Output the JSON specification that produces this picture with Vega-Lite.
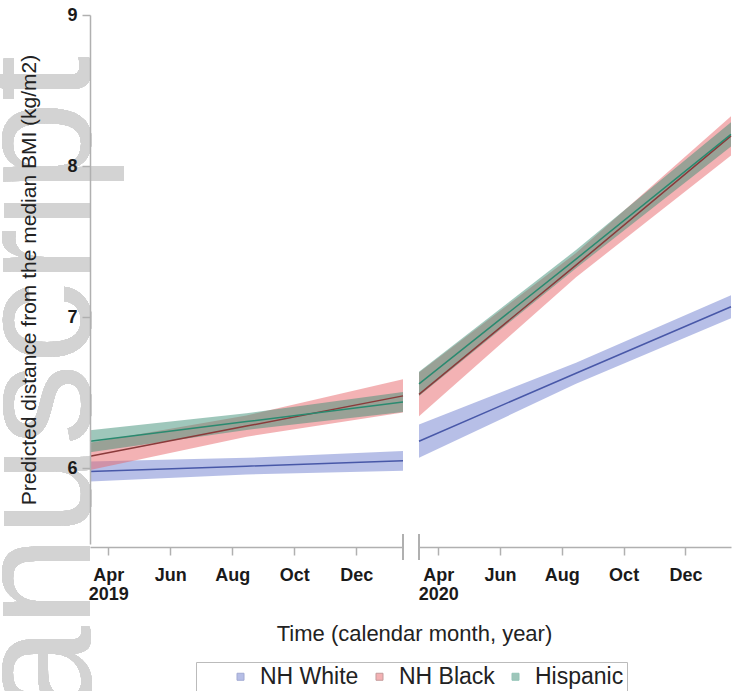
{
  "$schema": "https://vega.github.io/schema/vega-lite/v6.json",
  "padding": {"left": -40, "top": 6, "right": 0, "bottom": -162},
  "bounds": "flush",
  "spacing": 16,
  "config": {
    "font": "Liberation Sans",
    "view": {"stroke": null},
    "axisX": {"offset": 3, "tickSize": 8, "domainColor": "#b0b0b0", "tickColor": "#b0b0b0", "domainWidth": 1.5, "tickWidth": 1.5, "labelFontSize": 18, "labelFontWeight": "bold", "labelColor": "#1a1a1a", "labelPadding": 11, "labelLineHeight": 19, "labelOverlap": false, "labelFlush": false, "grid": false, "titleFontSize": 22, "titleFontWeight": "normal", "titleColor": "#222222", "titlePadding": 20},
    "axisY": {"tickSize": 8, "domainColor": "#b0b0b0", "tickColor": "#b0b0b0", "domainWidth": 1.5, "tickWidth": 1.5, "labelFontSize": 18, "labelFontWeight": "bold", "labelColor": "#1a1a1a", "labelPadding": 5, "grid": false, "titleFontSize": 21, "titleFontWeight": "normal", "titleColor": "#222222", "titlePadding": 27}
  },
  "data": {"values": [
    {"period": "2019", "date": "2019-03-14", "group": "NH White", "est": 5.98, "lo": 5.914, "hi": 6.046},
    {"period": "2019", "date": "2019-08-15", "group": "NH White", "est": 6.015, "lo": 5.96, "hi": 6.07},
    {"period": "2019", "date": "2020-01-16", "group": "NH White", "est": 6.05, "lo": 5.984, "hi": 6.116},
    {"period": "2019", "date": "2019-03-14", "group": "NH Black", "est": 6.08, "lo": 5.99, "hi": 6.17},
    {"period": "2019", "date": "2019-08-15", "group": "NH Black", "est": 6.28, "lo": 6.21, "hi": 6.35},
    {"period": "2019", "date": "2020-01-16", "group": "NH Black", "est": 6.48, "lo": 6.37, "hi": 6.59},
    {"period": "2019", "date": "2019-03-14", "group": "Hispanic", "est": 6.18, "lo": 6.107, "hi": 6.253},
    {"period": "2019", "date": "2019-08-15", "group": "Hispanic", "est": 6.31, "lo": 6.255, "hi": 6.365},
    {"period": "2019", "date": "2020-01-16", "group": "Hispanic", "est": 6.44, "lo": 6.374, "hi": 6.506},
    {"period": "2020", "date": "2020-03-13", "group": "NH White", "est": 6.18, "lo": 6.07, "hi": 6.29},
    {"period": "2020", "date": "2020-08-15", "group": "NH White", "est": 6.63, "lo": 6.56, "hi": 6.7},
    {"period": "2020", "date": "2021-01-15", "group": "NH White", "est": 7.07, "lo": 6.994, "hi": 7.146},
    {"period": "2020", "date": "2020-03-13", "group": "NH Black", "est": 6.49, "lo": 6.345, "hi": 6.635},
    {"period": "2020", "date": "2020-08-15", "group": "NH Black", "est": 7.345, "lo": 7.265, "hi": 7.425},
    {"period": "2020", "date": "2021-01-15", "group": "NH Black", "est": 8.2, "lo": 8.07, "hi": 8.33},
    {"period": "2020", "date": "2020-03-13", "group": "Hispanic", "est": 6.56, "lo": 6.48, "hi": 6.64},
    {"period": "2020", "date": "2020-08-15", "group": "Hispanic", "est": 7.385, "lo": 7.325, "hi": 7.445},
    {"period": "2020", "date": "2021-01-15", "group": "Hispanic", "est": 8.21, "lo": 8.13, "hi": 8.29}
  ]},
  "hconcat": [
    {
      "width": 313,
      "height": 529,
      "transform": [{"filter": "datum.period == '2019'"}],
      "layer": [
        {
          "mark": {"type": "text", "text": "Manuscript", "angle": 270, "align": "right", "baseline": "alphabetic", "fontSize": 163, "font": "Liberation Sans", "color": "#d3d3d3"},
          "encoding": {
            "x": {"datum": {"year": 2019, "month": 3, "date": 14}, "type": "temporal"},
            "y": {"datum": 8.728, "type": "quantitative"}
          }
        },
        {
          "mark": {"type": "area", "opacity": 0.5},
          "encoding": {
            "x": {"field": "date", "type": "temporal",
              "scale": {"domain": [{"year": 2019, "month": 3, "date": 14}, {"year": 2020, "month": 1, "date": 16}]},
              "axis": {
                "zindex": 1,
                "values": [{"year": 2019, "month": 4, "date": 1}, {"year": 2019, "month": 6, "date": 1}, {"year": 2019, "month": 8, "date": 1}, {"year": 2019, "month": 10, "date": 1}, {"year": 2019, "month": 12, "date": 1}],
                "labelExpr": "month(datum.value) == 3 ? [timeFormat(datum.value, '%b'), timeFormat(datum.value, '%Y')] : timeFormat(datum.value, '%b')",
                "title": "Time (calendar month, year)",
                "titleX": 324,
                "titleAlign": "center"
              }
            },
            "y": {"field": "lo", "type": "quantitative",
              "scale": {"domain": [5.5, 9], "nice": false, "zero": false},
              "axis": {"zindex": 1, "values": [6, 7, 8, 9], "format": "d", "title": "Predicted distance from the median BMI (kg/m2)"}
            },
            "y2": {"field": "hi"},
            "color": {"field": "group", "type": "nominal",
              "scale": {"domain": ["NH White", "NH Black", "Hispanic"], "range": ["#6f7fcf", "#e8666a", "#3f8f78"]},
              "legend": {
                "orient": "none", "legendX": 106, "legendY": 647, "direction": "horizontal",
                "title": "xxxxx", "titleOrient": "left", "titleFontSize": 10, "titleColor": "rgba(0,0,0,0)", "titlePadding": 2,
                "labelFontSize": 23, "labelColor": "#222222", "labelOffset": 8, "columnPadding": 9,
                "symbolType": "square", "symbolSize": 49, "symbolStrokeWidth": 1, "symbolStrokeColor": "#666666", "symbolOpacity": 0.7,
                "strokeColor": "#bbbbbb", "fillColor": "white", "padding": 3
              }
            }
          }
        },
        {
          "mark": {"type": "line", "strokeWidth": 1.5},
          "encoding": {
            "x": {"field": "date", "type": "temporal"},
            "y": {"field": "est", "type": "quantitative"},
            "stroke": {"field": "group", "type": "nominal",
              "scale": {"domain": ["NH White", "NH Black", "Hispanic"], "range": ["#4858a8", "#8a3a3a", "#2a8a70"]},
              "legend": null}
          }
        },
        {
          "mark": {"type": "rule", "color": "#b0b0b0", "strokeWidth": 1.5},
          "encoding": {
            "x": {"datum": {"year": 2020, "month": 1, "date": 16}, "type": "temporal"},
            "y": {"datum": 5.397, "type": "quantitative"},
            "y2": {"datum": 5.563}
          }
        }
      ]
    },
    {
      "width": 312,
      "height": 529,
      "transform": [{"filter": "datum.period == '2020'"}],
      "layer": [
        {
          "mark": {"type": "area", "opacity": 0.5},
          "encoding": {
            "x": {"field": "date", "type": "temporal",
              "scale": {"domain": [{"year": 2020, "month": 3, "date": 13}, {"year": 2021, "month": 1, "date": 15}]},
              "axis": {
                "values": [{"year": 2020, "month": 4, "date": 1}, {"year": 2020, "month": 6, "date": 1}, {"year": 2020, "month": 8, "date": 1}, {"year": 2020, "month": 10, "date": 1}, {"year": 2020, "month": 12, "date": 1}],
                "labelExpr": "month(datum.value) == 3 ? [timeFormat(datum.value, '%b'), timeFormat(datum.value, '%Y')] : timeFormat(datum.value, '%b')",
                "title": null
              }
            },
            "y": {"field": "lo", "type": "quantitative",
              "scale": {"domain": [5.5, 9], "nice": false, "zero": false},
              "axis": null
            },
            "y2": {"field": "hi"},
            "color": {"field": "group", "type": "nominal"}
          }
        },
        {
          "mark": {"type": "line", "strokeWidth": 1.5},
          "encoding": {
            "x": {"field": "date", "type": "temporal"},
            "y": {"field": "est", "type": "quantitative"},
            "stroke": {"field": "group", "type": "nominal", "legend": null}
          }
        },
        {
          "mark": {"type": "rule", "color": "#b0b0b0", "strokeWidth": 1.5},
          "encoding": {
            "x": {"datum": {"year": 2020, "month": 3, "date": 13}, "type": "temporal"},
            "y": {"datum": 5.397, "type": "quantitative"},
            "y2": {"datum": 5.563}
          }
        }
      ]
    }
  ]
}
